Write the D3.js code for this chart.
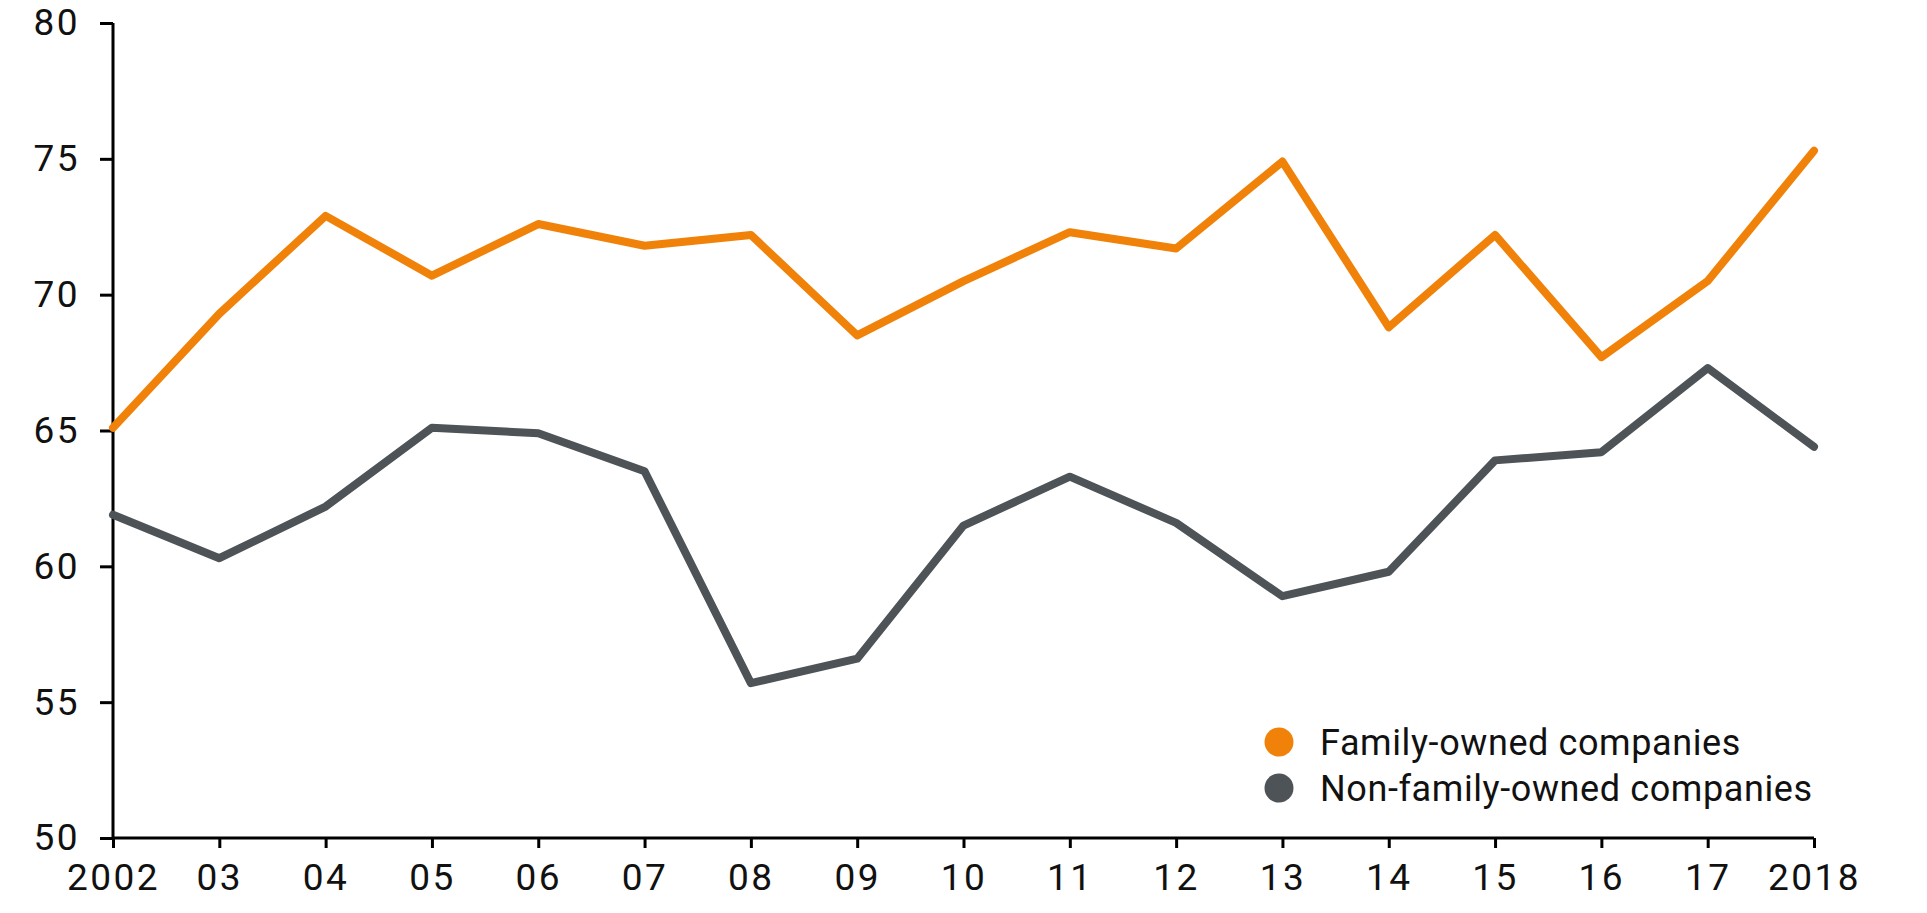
<!DOCTYPE html>
<html>
<head>
<meta charset="utf-8">
<script src="https://cdn.jsdelivr.net/npm/d3@7"></script>
<style>
  html, body { margin: 0; padding: 0; background: #fff; }
  svg { display: block; }
  text { font-family: Roboto, sans-serif; fill: #111; }
</style>
</head>
<body>
<svg id="chart" width="1927" height="913"></svg>
<script>
const years = [2002, 2003, 2004, 2005, 2006, 2007, 2008, 2009, 2010, 2011, 2012, 2013, 2014, 2015, 2016, 2017, 2018];
const yearLabels = ["2002", "03", "04", "05", "06", "07", "08", "09", "10", "11", "12", "13", "14", "15", "16", "17", "2018"];
const familyOwned = [65.1, 69.3, 72.9, 70.7, 72.6, 71.8, 72.2, 68.5, 70.5, 72.3, 71.7, 74.9, 68.8, 72.2, 67.7, 70.5, 75.3];
const nonFamilyOwned = [61.9, 60.3, 62.2, 65.1, 64.9, 63.5, 55.7, 56.6, 61.5, 63.3, 61.6, 58.9, 59.8, 63.9, 64.2, 67.3, 64.4];
const yTicks = [50, 55, 60, 65, 70, 75, 80];
const seriesNames = ["Family-owned companies", "Non-family-owned companies"];
const seriesColors = ["#F0820A", "#4D5356"];

const svg = d3.select("#chart");
const x = d3.scaleLinear().domain([2002, 2018]).range([113, 1814]);
const y = d3.scaleLinear().domain([50, 80]).range([838, 23]);

// Y axis
const yAxis = svg.append("g").attr("transform", `translate(${x(2002)},0)`)
  .call(d3.axisLeft(y).tickValues(yTicks).tickSize(13).tickPadding(20).tickFormat(d3.format("d")));
yAxis.select(".domain").attr("stroke", "#000").attr("stroke-width", 3).attr("d", `M0,${y(80)}V${y(50)}`);
yAxis.selectAll(".tick line").attr("stroke", "#000").attr("stroke-width", 3);
yAxis.selectAll(".tick text").attr("font-size", 37).attr("letter-spacing", 2.5)
  .attr("font-family", "Roboto").attr("font-weight", 400).attr("fill", "#111");

// X axis
const xAxis = svg.append("g").attr("transform", `translate(0,${y(50)})`)
  .call(d3.axisBottom(x).tickValues(years).tickSize(10).tickPadding(16).tickFormat((d, i) => yearLabels[i]));
xAxis.select(".domain").attr("stroke", "#000").attr("stroke-width", 3).attr("d", `M${x(2002)},0H${x(2018)}`);
xAxis.selectAll(".tick line").attr("stroke", "#000").attr("stroke-width", 3);
xAxis.selectAll(".tick text").attr("font-size", 37).attr("letter-spacing", 2.5)
  .attr("font-family", "Roboto").attr("font-weight", 400).attr("fill", "#111");

// Lines
const line = d3.line().x((d, i) => x(years[i])).y(d => y(d));
[familyOwned, nonFamilyOwned].forEach((s, k) => {
  svg.append("path").datum(s)
    .attr("d", line)
    .attr("fill", "none")
    .attr("stroke", seriesColors[k])
    .attr("stroke-width", 8)
    .attr("stroke-linejoin", "round")
    .attr("stroke-linecap", "round");
});

// Legend
const legend = svg.append("g");
seriesNames.forEach((name, k) => {
  const g = legend.append("g").attr("transform", `translate(1279,${742 + k * 46})`);
  g.append("circle").attr("r", 14.5).attr("fill", seriesColors[k]);
  g.append("text").attr("x", 41).attr("dy", "0.35em").attr("font-size", 36)
    .attr("font-weight", 400).attr("letter-spacing", 0.6).text(name);
});
</script>
</body>
</html>
